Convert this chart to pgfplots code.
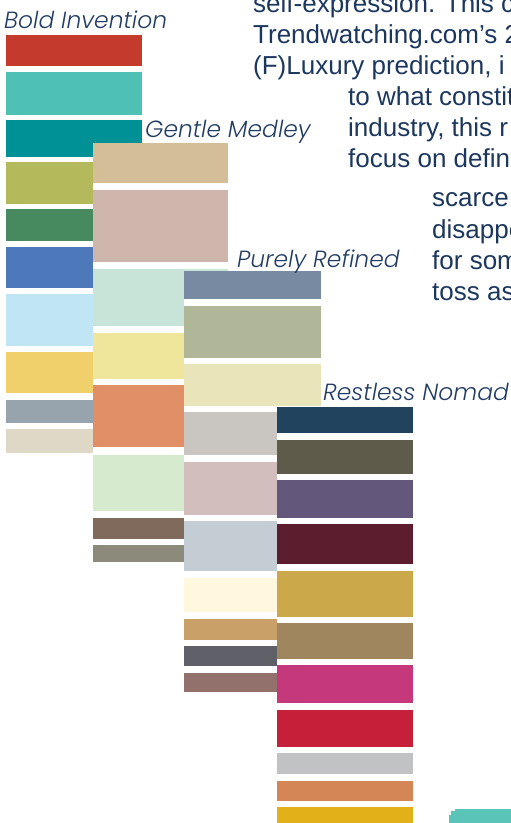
\documentclass[border=0pt]{standalone}
\usepackage{pgfplots}
\pgfplotsset{compat=1.18}
\usepackage{fontspec}
\setmainfont{Liberation Sans}
\newfontfamily\titlefont{Poppins Light}[ItalicFont={Poppins Light Italic}]
\definecolor{txt}{HTML}{1C375E}
\definecolor{ttl}{HTML}{223D64}
% Bold Invention
\definecolor{a1}{HTML}{C43A2C}
\definecolor{a2}{HTML}{4FC1B4}
\definecolor{a3}{HTML}{009196}
\definecolor{a4}{HTML}{B4BA5C}
\definecolor{a5}{HTML}{488A5F}
\definecolor{a6}{HTML}{4D78BA}
\definecolor{a7}{HTML}{C0E5F5}
\definecolor{a8}{HTML}{F0D06A}
\definecolor{a9}{HTML}{97A4AD}
\definecolor{a10}{HTML}{E0D8C6}
% Gentle Medley
\definecolor{b1}{HTML}{D4BE98}
\definecolor{b2}{HTML}{CFB6AC}
\definecolor{b3}{HTML}{C8E4D8}
\definecolor{b4}{HTML}{EFE69C}
\definecolor{b5}{HTML}{E08F67}
\definecolor{b6}{HTML}{D6EACE}
\definecolor{b7}{HTML}{806A5C}
\definecolor{b8}{HTML}{8C8A7A}
% Purely Refined
\definecolor{c1}{HTML}{7889A2}
\definecolor{c2}{HTML}{B0B698}
\definecolor{c3}{HTML}{EAE4BA}
\definecolor{c4}{HTML}{C9C6C2}
\definecolor{c5}{HTML}{D2BFBD}
\definecolor{c6}{HTML}{C5CDD4}
\definecolor{c7}{HTML}{FFF8DF}
\definecolor{c8}{HTML}{C8A068}
\definecolor{c9}{HTML}{606068}
\definecolor{c10}{HTML}{92706C}
% Restless Nomad
\definecolor{d1}{HTML}{22435E}
\definecolor{d2}{HTML}{5F5B4B}
\definecolor{d3}{HTML}{63577C}
\definecolor{d4}{HTML}{5C1E2E}
\definecolor{d5}{HTML}{CBA94A}
\definecolor{d6}{HTML}{A0865E}
\definecolor{d7}{HTML}{C5397C}
\definecolor{d8}{HTML}{C61F3A}
\definecolor{d9}{HTML}{C0C2C3}
\definecolor{d10}{HTML}{D48656}
\definecolor{d11}{HTML}{E2B11A}
\definecolor{tealbtn}{HTML}{5BC4B8}
\newcommand{\sw}[5]{\addplot[fill=#5, draw=none, forget plot] coordinates {(#1,#3) (#2,#3) (#2,#4) (#1,#4)};}
\begin{document}
\begin{tikzpicture}
\begin{axis}[
  width=511bp, height=823bp, scale only axis,
  xmin=0, xmax=511, ymin=0, ymax=823, y dir=reverse,
  axis lines=none, clip=false]
% column 1: Bold Invention
\sw{6}{142}{35}{66}{a1}
\sw{6}{142}{72}{115}{a2}
\sw{6}{142}{120}{157}{a3}
\sw{6}{142}{162}{204}{a4}
\sw{6}{142}{209}{241}{a5}
\sw{6}{142}{247}{288}{a6}
\sw{6}{142}{294}{346}{a7}
\sw{6}{142}{352}{393}{a8}
\sw{6}{142}{400}{423}{a9}
\sw{6}{142}{429}{453}{a10}
% column 2: Gentle Medley
\sw{93}{228}{143}{562}{white}
\sw{93}{228}{143}{183}{b1}
\sw{93}{228}{190}{262}{b2}
\sw{93}{228}{269}{326}{b3}
\sw{93}{228}{333}{379}{b4}
\sw{93}{228}{385}{447}{b5}
\sw{93}{228}{455}{511}{b6}
\sw{93}{228}{518}{539}{b7}
\sw{93}{228}{545}{562}{b8}
% column 3: Purely Refined
\sw{184}{321}{271}{692}{white}
\sw{184}{321}{271}{299}{c1}
\sw{184}{321}{306}{358}{c2}
\sw{184}{321}{364}{406}{c3}
\sw{184}{321}{412}{455}{c4}
\sw{184}{321}{462}{515}{c5}
\sw{184}{321}{521}{571}{c6}
\sw{184}{321}{578}{612}{c7}
\sw{184}{321}{619}{640}{c8}
\sw{184}{321}{646}{666}{c9}
\sw{184}{321}{673}{692}{c10}
% column 4: Restless Nomad
\sw{277}{413}{407}{823}{white}
\sw{277}{413}{407}{433}{d1}
\sw{277}{413}{440}{474}{d2}
\sw{277}{413}{480}{518}{d3}
\sw{277}{413}{524}{564}{d4}
\sw{277}{413}{571}{617}{d5}
\sw{277}{413}{623}{659}{d6}
\sw{277}{413}{665}{703}{d7}
\sw{277}{413}{710}{747}{d8}
\sw{277}{413}{753}{774}{d9}
\sw{277}{413}{781}{801}{d10}
\sw{277}{413}{807}{823}{d11}
% teal button at bottom right
\addplot[fill=tealbtn, draw=none, forget plot] coordinates {(455,809) (530,809) (530,840) (455,840)};
\addplot[fill=tealbtn, draw=none, forget plot] coordinates {(449,815) (456,815) (456,840) (449,840)};
\addplot[fill=tealbtn, draw=none, forget plot] coordinates {(451,811) (456,811) (456,816) (451,816)};
% titles
\begin{scope}[every node/.style={anchor=base west, inner sep=0pt, text=ttl, font=\titlefont\itshape\fontsize{23.4bp}{28bp}\selectfont}]
\node at (axis cs:4,29) {Bold Invention};
\node at (axis cs:145,138) {Gentle Medley};
\node at (axis cs:237,267) {Purely Refined};
\node at (axis cs:323,400) {Restless Nomad};
\end{scope}
% body text
\begin{scope}[every node/.style={anchor=base west, inner sep=0pt, text=txt, font=\fontsize{26bp}{31bp}\selectfont}]
\node at (axis cs:253,13) {self-expression. This c};
\node at (axis cs:253,44) {Trendwatching.com’s 2};
\node at (axis cs:253,75) {(F)Luxury prediction, i};
\node at (axis cs:348,106) {to what constit};
\node at (axis cs:348,137) {industry, this r};
\node at (axis cs:348,168) {focus on defin};
\node at (axis cs:432,207) {scarce};
\node at (axis cs:432,238) {disappe};
\node at (axis cs:432,269) {for som};
\node at (axis cs:432,300) {toss as};
\end{scope}
\end{axis}
\pgfresetboundingbox
\useasboundingbox (current axis.south west) rectangle (current axis.north east);
\end{tikzpicture}
\end{document}
